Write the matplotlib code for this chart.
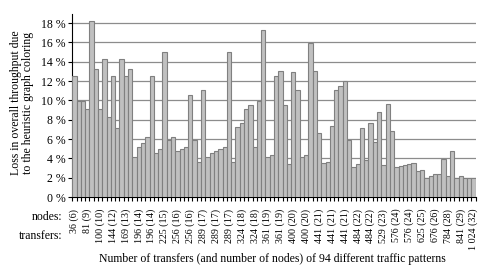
import matplotlib
matplotlib.use("Agg")
import matplotlib.pyplot as plt
import numpy as np

# loss in overall throughput (%) for each of the 94 traffic patterns
loss = [
    12.5, 9.9, 9.9, 9.1, 18.2, 13.3, 9.1, 14.3, 8.3, 12.5,
    7.1, 14.3, 12.5, 13.3, 4.1, 5.2, 5.6, 6.2, 12.5, 4.6,
    5.0, 15.0, 5.9, 6.2, 4.75, 5.0, 5.2, 10.55, 5.9, 3.6,
    11.1, 4.1, 4.55, 4.75, 5.0, 5.2, 15.0, 3.6, 7.3, 7.65,
    9.1, 9.5, 5.2, 9.9, 17.3, 4.1, 4.35, 12.5, 13.0, 9.5,
    3.4, 12.9, 11.1, 4.1, 4.35, 15.9, 13.0, 6.65, 3.5, 3.6,
    7.35, 11.1, 11.5, 12.0, 5.9, 3.1, 3.4, 7.1, 3.85, 7.65,
    5.7, 8.8, 3.3, 9.6, 6.8, 3.1, 3.2, 3.3, 3.4, 3.5,
    2.7, 2.8, 1.95, 2.15, 2.4, 2.4, 3.9, 2.15, 4.75, 1.95,
    2.15, 1.95, 1.95, 1.95,
]

# labels shown under every third bar: transfers (nodes)
tick_labels = [
    "36 (6)", "81 (9)", "100 (10)", "144 (12)", "169 (13)", "196 (14)",
    "196 (14)", "225 (15)", "256 (16)", "256 (16)", "289 (17)", "289 (17)",
    "289 (17)", "324 (18)", "324 (18)", "361 (19)", "361 (19)", "400 (20)",
    "400 (20)", "441 (21)", "441 (21)", "441 (21)", "484 (22)", "484 (22)",
    "529 (23)", "576 (24)", "576 (24)", "625 (25)", "676 (26)", "784 (28)",
    "841 (29)", "1 024 (32)",
]

plt.rcParams["font.family"] = ["Liberation Serif", "DejaVu Serif"]

fig = plt.figure(figsize=(4.85, 2.73), dpi=100)
ax = fig.add_axes([0.149, 0.278, 0.832, 0.671])

x = np.arange(len(loss))
ax.bar(x, loss, width=1.0, color="#c0c0c0", edgecolor="#808080",
       linewidth=0.8, zorder=3)

ax.set_xlim(-0.5, len(loss) - 0.5)
ax.set_ylim(0, 18.95)

# y axis
ax.set_yticks(np.arange(0, 19, 2))
ax.set_yticklabels([f"{v} %" for v in range(0, 19, 2)], fontsize=8.5)
ax.yaxis.grid(True, color="#8c8c8c", linewidth=0.9, zorder=0)
ax.tick_params(axis="y", direction="out", length=3, width=0.8, pad=2)

# x axis: tick marks at bar boundaries, labels under every third bar
ax.set_xticks(np.arange(-0.5, len(loss), 1.0))
ax.set_xticklabels([])
ax.tick_params(axis="x", direction="out", length=3, width=0.8)
for i, lab in zip(range(0, len(loss), 3), tick_labels):
    ax.text(i, -1.2, lab, rotation=90, ha="center", va="top",
            fontsize=7.2, transform=ax.transData, clip_on=False)

for s in ["top", "right"]:
    ax.spines[s].set_visible(False)
for s in ["left", "bottom"]:
    ax.spines[s].set_color("black")
    ax.spines[s].set_linewidth(0.8)

fig.text(62 / 485, 1 - 217 / 273, "nodes:", ha="right", va="center",
         fontsize=8.5)
fig.text(62 / 485, 1 - 236 / 273, "transfers:", ha="right", va="center",
         fontsize=8.5)

fig.text(22 / 485, 1 - 103 / 273,
         "Loss in overall throughput due\nto the heuristic graph coloring",
         rotation=90, ha="center", va="center", fontsize=8.5,
         linespacing=1.1)
fig.text(272 / 485, 1 - 259 / 273,
         "Number of transfers (and number of nodes) of 94 different traffic patterns",
         ha="center", va="center", fontsize=8.5)

fig.savefig("out.png", dpi=100)
